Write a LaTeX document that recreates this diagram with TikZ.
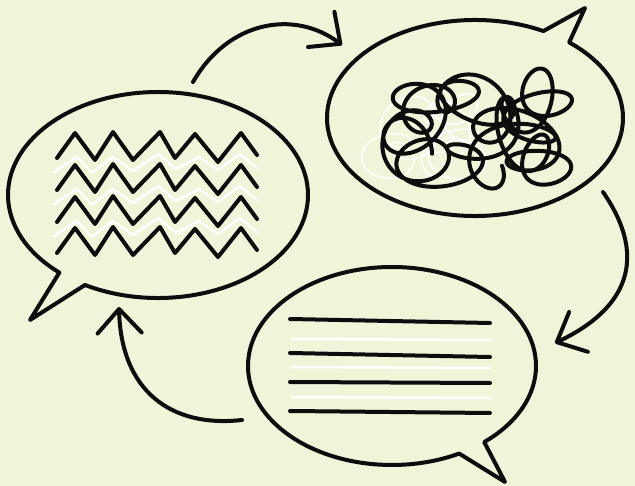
\documentclass[tikz,border=0pt]{standalone}
\usepackage{tikz}
\usetikzlibrary{arrows.meta,shapes.callouts}
\definecolor{paper}{HTML}{F0F5DA}
\definecolor{ink}{HTML}{0D0D0D}

\begin{document}
\begin{tikzpicture}[x=1pt,y=-1pt,
  bubble/.style={ellipse callout, draw=ink, line width=4pt, line join=round, inner sep=0pt, callout pointer arc=12},
  scrawl/.style={ink, line width=4pt, line cap=round, line join=round},
  hint/.style={white, line width=2.5pt, line cap=round, line join=round},
  flow/.style={ink, line width=4pt, line cap=round, -{Straight Barb[length=24pt,width=44pt,round]}}]
  \fill[paper] (0,0) rectangle (635,486);
  \useasboundingbox (0,0) rectangle (635,486);

  % speech bubbles
  \node[bubble, minimum width=300pt, minimum height=206pt, callout absolute pointer={(30,320)}] (waves) at (158,195) {};
  \node[bubble, minimum width=296pt, minimum height=196pt, callout absolute pointer={(585,8)}] (tangle) at (475,118) {};
  \node[bubble, minimum width=288pt, minimum height=198pt, callout absolute pointer={(505,482)}] (lines) at (392,366) {};

  % zigzag text
  \foreach \dy in {0,32,64} \draw[hint, shift={(0,\dy)}] plot coordinates {(54,172) (77,157) (92,173) (113,157) (133,171) (158,154) (176,169) (199,157) (218,170) (240,154) (257,168)};
  \foreach \dy in {0,32,64,95} \draw[scrawl, shift={(0,\dy)}] plot coordinates {(57,158) (75,133) (95,160) (113,132) (133,160) (160,132) (175,158) (195,134) (218,162) (241,133) (257,155)};

  % scribble
  \draw[hint, line width=1.5pt] plot[domain=0:900, samples=400, variable=\t] ({425+40*sin(0.6*\t)+(18+6*sin(\t))*cos(3.7*\t)}, {135+28*cos(0.9*\t)+16*sin(3.7*\t)});
  \draw[scrawl] plot[domain=0:1440, samples=900, variable=\t] ({477+68*sin(0.45*\t)+(25+9*sin(0.9*\t))*cos(4*\t)}, {131+37*cos(0.7*\t+20)+(21+7*cos(1.3*\t))*sin(4*\t)});

  % plain lines
  \foreach \y in {339,367,397} \draw[hint] (291,\y) -- (490,\y+1);
  \foreach \ya/\yb in {319/323,353/357,382/383,411/413} \draw[scrawl] (290,\ya) -- (490,\yb);

  % arrows
  \coordinate (r1) at (193,82);
  \coordinate (r2) at (342,45);
  \coordinate (r3) at (603,192);
  \coordinate (r4) at (555,343);
  \coordinate (r5) at (242,420);
  \coordinate (r6) at (119,307);
  \draw[flow] (r1) .. controls (228,21) and (294,9) .. (r2);
  \draw[flow] (r3) .. controls (650,260) and (625,310) .. (r4);
  \draw[flow] (r5) .. controls (170,428) and (121,390) .. (r6);
\end{tikzpicture}
\end{document}
